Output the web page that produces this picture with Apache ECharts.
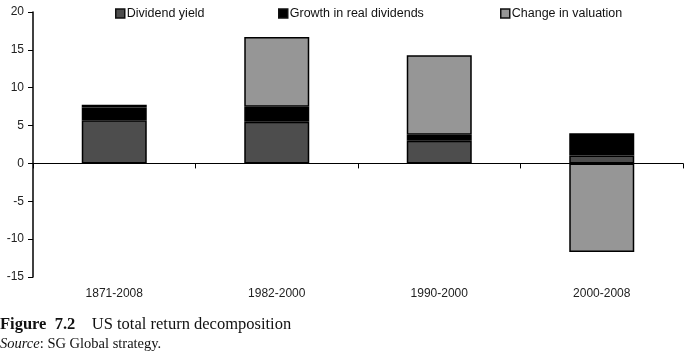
<!DOCTYPE html>
<html><head><meta charset="utf-8">
<script src="https://cdn.jsdelivr.net/npm/echarts@6/dist/echarts.min.js"></script>
<style>html,body{margin:0;padding:0;background:#fff}#c{width:692px;height:358px}</style>
</head><body><div id="c"></div>
<script>
var categories = ['1871-2008', '1982-2000', '1990-2000', '2000-2008'];
var dividendYield = [5.7, 5.5, 3.0, 1.05];
var growthRealDividends = [1.7, 2.0, 0.8, 2.95];
var changeValuation = [0.35, 9.2, 10.5, -11.7];
var yTicks = [-15, -10, -5, 0, 5, 10, 15, 20];

var chart = echarts.init(document.getElementById('c'), null, {renderer: 'canvas'});
var font = 'Liberation Sans, Arial, sans-serif';
var serif = 'Liberation Serif, Times New Roman, serif';
function barSeries(name, data, color) {
  return {
    name: name, type: 'bar', stack: 'total', data: data, barWidth: '40%',
    xAxisIndex: 0,
    itemStyle: {color: color, borderColor: '#000', borderWidth: 1.5}
  };
}
function legend(name, left) {
  return {
    data: [name], left: left, top: 7, itemWidth: 9, itemHeight: 9, itemGap: 0,
    icon: 'rect', padding: 0,
    textStyle: {fontFamily: font, fontSize: 12.5, color: '#111', padding: [0, 0, 0, -3]},
    itemStyle: {borderColor: '#111', borderWidth: 1.5}
  };
}
chart.setOption({
  animation: false,
  legend: [legend('Dividend yield', 115), legend('Growth in real dividends', 278), legend('Change in valuation', 500)],
  grid: {left: 33, right: 9, top: 12, bottom: 81, containLabel: false},
  xAxis: [{
    type: 'category', data: categories, position: 'bottom',
    axisLine: {onZero: true, lineStyle: {color: '#000', width: 1}},
    axisTick: {show: true, length: 5, alignWithLabel: false, lineStyle: {color: '#000'}},
    axisLabel: {show: false}
  }, {
    type: 'category', data: categories, position: 'bottom',
    axisLine: {show: false}, axisTick: {show: false},
    axisLabel: {show: true, margin: 11, fontFamily: font, fontSize: 12, color: '#222'}
  }],
  yAxis: {
    type: 'value', min: yTicks[0], max: yTicks[yTicks.length - 1], interval: 5,
    splitLine: {show: false},
    axisLine: {show: true, lineStyle: {color: '#000', width: 1.5}},
    axisTick: {show: true, length: 5, lineStyle: {color: '#000'}},
    axisLabel: {fontFamily: font, fontSize: 12, color: '#222', margin: 9}
  },
  series: [
    barSeries('Dividend yield', dividendYield, '#4d4d4d'),
    barSeries('Growth in real dividends', growthRealDividends, '#000000'),
    barSeries('Change in valuation', changeValuation, '#969696')
  ],
  graphic: [{
    type: 'text', left: 0, top: 316,
    style: {
      text: '{b|Figure  7.2}    US total return decomposition',
      rich: {b: {fontFamily: serif, fontSize: 16.5, fontWeight: 'bold', fill: '#111'}},
      fontFamily: serif, fontSize: 16.5, fill: '#111'
    }
  }, {
    type: 'text', left: 0, top: 337,
    style: {
      text: '{i|Source}: SG Global strategy.',
      rich: {i: {fontFamily: serif, fontSize: 14.5, fontStyle: 'italic', fill: '#111'}},
      fontFamily: serif, fontSize: 14.5, fill: '#111'
    }
  }]
});
</script></body></html>
